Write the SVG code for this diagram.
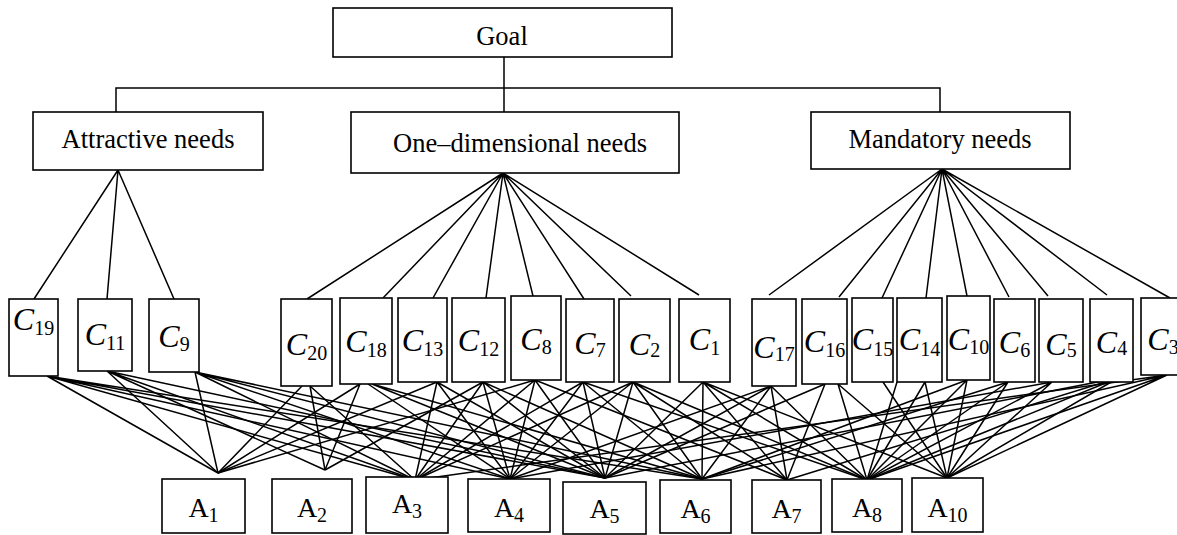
<svg xmlns="http://www.w3.org/2000/svg" width="1177" height="535" viewBox="0 0 1177 535">
<style>
.box{fill:#fff;stroke:#000;stroke-width:1.6}
.lbl{font-family:"Liberation Serif","Times New Roman",serif;font-size:26.5px;fill:#000;text-anchor:middle}
.c{font-family:"Liberation Serif","Times New Roman",serif;font-size:32px;font-style:italic;fill:#000;text-anchor:middle}
.a{font-family:"Liberation Serif","Times New Roman",serif;font-size:28px;fill:#000;text-anchor:middle}
.sub{font-style:normal;font-size:20px}
.ln{fill:none;stroke:#000;stroke-width:1.5}
</style>
<rect width="1177" height="535" fill="#fff"/>
<g id="connectors" class="ln">
<path d="M504 57V112M116 112V88H940V112"/>
<path d="M118 170L34 299M118 170L107 299M118 170L174 299"/>
<path d="M503 173L307 299M503 173L383 298M503 173L433 298M503 173L486 298M503 173L533 296M503 173L584 299M503 173L631 296M503 173L699 295"/>
<path d="M942 169L769 295M942 169L839 297M942 169L882 298M942 169L926 298M942 169L967 296M942 169L1009 297M942 169L1048 296M942 169L1107 295M942 169L1170 298"/>
<path d="M47 376L218 473M47 376L415 480M47 376L510 479M47 376L605 478M47 376L702 479"/>
<path d="M107 371L218 473M107 371L325 470M107 371L415 480M107 371L605 478"/>
<path d="M195 372L218 473M195 372L415 480M195 372L510 479M195 372L605 478M195 372L702 479"/>
<path d="M302 386L218 473M310 386L325 470M310 386L415 480"/>
<path d="M360 384L218 473M360 384L325 470M368 384L510 479M372 384L605 478M372 384L702 479"/>
<path d="M437 382L218 473M437 382L415 480M437 382L510 479M437 382L605 478"/>
<path d="M483 382L325 470M483 382L415 480M483 382L510 479M483 382L605 478M483 382L702 479"/>
<path d="M535 380L218 473M535 380L415 480M535 380L510 479M535 380L605 478M535 380L787 480"/>
<path d="M583 382L415 480M583 382L510 479M583 382L605 478M583 382L702 479M583 382L867 480"/>
<path d="M633 382L415 480M633 382L510 479M633 382L605 478M633 382L702 479M633 382L787 480M633 382L867 480"/>
<path d="M703 382L605 478M703 382L702 479M703 382L787 480M703 382L867 480M703 382L947 478"/>
<path d="M771 386L510 479M771 386L605 478M771 386L702 479M771 386L787 480M771 386L867 480"/>
<path d="M825 384L605 478M825 384L787 480M838 384L867 480M838 384L947 478"/>
<path d="M897 382L867 480M883 382L947 478"/>
<path d="M925 382L867 480M925 382L947 478"/>
<path d="M967 380L702 479M967 380L867 480M967 380L947 478"/>
<path d="M1008 382L702 479M1008 382L867 480M1008 382L947 478"/>
<path d="M1052 382L510 479M1052 382L867 480M1052 382L947 478"/>
<path d="M1118 378L605 478M1118 378L787 480M1118 378L867 480M1118 378L947 478"/>
<path d="M1167 375L415 480M1167 375L702 479M1167 375L867 480M1167 375L947 478"/>
</g>
<g id="goal"><rect class="box" x="333" y="8" width="339" height="49"/><text class="lbl" x="502" y="45">Goal</text></g>
<g id="attractive"><rect class="box" x="33" y="112" width="230" height="58"/><text class="lbl" x="148" y="148">Attractive needs</text></g>
<g id="onedim"><rect class="box" x="351" y="112" width="328" height="61"/><text class="lbl" x="520" y="152">One–dimensional needs</text></g>
<g id="mandatory"><rect class="box" x="811" y="112" width="259" height="57"/><text class="lbl" x="940" y="148">Mandatory needs</text></g>
<g id="C19"><rect class="box" x="9" y="299" width="49" height="77"/><text class="c" x="33.5" y="330">C<tspan class="sub" dy="5">19</tspan></text></g>
<g id="C11"><rect class="box" x="78" y="299" width="54" height="72"/><text class="c" x="105" y="345">C<tspan class="sub" dy="5">11</tspan></text></g>
<g id="C9"><rect class="box" x="149" y="299" width="50" height="73"/><text class="c" x="174" y="347">C<tspan class="sub" dy="4">9</tspan></text></g>
<g id="C20"><rect class="box" x="281" y="299" width="51" height="87"/><text class="c" x="306.5" y="355">C<tspan class="sub" dy="5">20</tspan></text></g>
<g id="C18"><rect class="box" x="340" y="298" width="52" height="86"/><text class="c" x="366" y="352">C<tspan class="sub" dy="5">18</tspan></text></g>
<g id="C13"><rect class="box" x="398" y="298" width="49" height="84"/><text class="c" x="422.5" y="351">C<tspan class="sub" dy="5">13</tspan></text></g>
<g id="C12"><rect class="box" x="452" y="298" width="53" height="84"/><text class="c" x="478.5" y="351">C<tspan class="sub" dy="5">12</tspan></text></g>
<g id="C8"><rect class="box" x="511" y="296" width="50" height="84"/><text class="c" x="536" y="350">C<tspan class="sub" dy="4">8</tspan></text></g>
<g id="C7"><rect class="box" x="566" y="299" width="48" height="83"/><text class="c" x="590" y="354">C<tspan class="sub" dy="3">7</tspan></text></g>
<g id="C2"><rect class="box" x="619" y="299" width="51" height="83"/><text class="c" x="644.5" y="355">C<tspan class="sub" dy="2">2</tspan></text></g>
<g id="C1"><rect class="box" x="679" y="299" width="51" height="83"/><text class="c" x="704.5" y="350">C<tspan class="sub" dy="5">1</tspan></text></g>
<g id="C17"><rect class="box" x="752" y="299" width="44" height="87"/><text class="c" x="774" y="358">C<tspan class="sub" dy="3">17</tspan></text></g>
<g id="C16"><rect class="box" x="802" y="299" width="45" height="85"/><text class="c" x="824.5" y="352">C<tspan class="sub" dy="5">16</tspan></text></g>
<g id="C15"><rect class="box" x="852" y="298" width="41" height="84"/><text class="c" x="872.5" y="350">C<tspan class="sub" dy="6">15</tspan></text></g>
<g id="C14"><rect class="box" x="897" y="298" width="45" height="84"/><text class="c" x="919.5" y="350">C<tspan class="sub" dy="6">14</tspan></text></g>
<g id="C10"><rect class="box" x="947" y="296" width="43" height="84"/><text class="c" x="968.5" y="350">C<tspan class="sub" dy="4">10</tspan></text></g>
<g id="C6"><rect class="box" x="994" y="299" width="41" height="83"/><text class="c" x="1014.5" y="353">C<tspan class="sub" dy="4">6</tspan></text></g>
<g id="C5"><rect class="box" x="1039" y="299" width="44" height="83"/><text class="c" x="1061" y="355">C<tspan class="sub" dy="2">5</tspan></text></g>
<g id="C4"><rect class="box" x="1090" y="299" width="43" height="83"/><text class="c" x="1111.5" y="353">C<tspan class="sub" dy="2">4</tspan></text></g>
<g id="C3"><rect class="box" x="1141" y="298" width="45" height="77"/><text class="c" x="1163" y="350">C<tspan class="sub" dy="4">3</tspan></text></g>
<g id="A1"><rect class="box" x="162" y="479" width="83" height="54"/><text class="a" x="203.5" y="517">A<tspan class="sub" dy="5">1</tspan></text></g>
<g id="A2"><rect class="box" x="272" y="479" width="80" height="54"/><text class="a" x="312" y="517">A<tspan class="sub" dy="5">2</tspan></text></g>
<g id="A3"><rect class="box" x="366" y="477" width="82" height="56"/><text class="a" x="407" y="513">A<tspan class="sub" dy="5">3</tspan></text></g>
<g id="A4"><rect class="box" x="468" y="479" width="82" height="53"/><text class="a" x="509" y="517">A<tspan class="sub" dy="5">4</tspan></text></g>
<g id="A5"><rect class="box" x="563" y="482" width="83" height="52"/><text class="a" x="604.5" y="518">A<tspan class="sub" dy="5">5</tspan></text></g>
<g id="A6"><rect class="box" x="660" y="480" width="71" height="53"/><text class="a" x="695.5" y="518">A<tspan class="sub" dy="5">6</tspan></text></g>
<g id="A7"><rect class="box" x="752" y="480" width="69" height="53"/><text class="a" x="786.5" y="518">A<tspan class="sub" dy="5">7</tspan></text></g>
<g id="A8"><rect class="box" x="832" y="479" width="70" height="53"/><text class="a" x="867" y="517">A<tspan class="sub" dy="5">8</tspan></text></g>
<g id="A10"><rect class="box" x="912" y="478" width="71" height="54"/><text class="a" x="947.5" y="517">A<tspan class="sub" dy="5">10</tspan></text></g>
</svg>
